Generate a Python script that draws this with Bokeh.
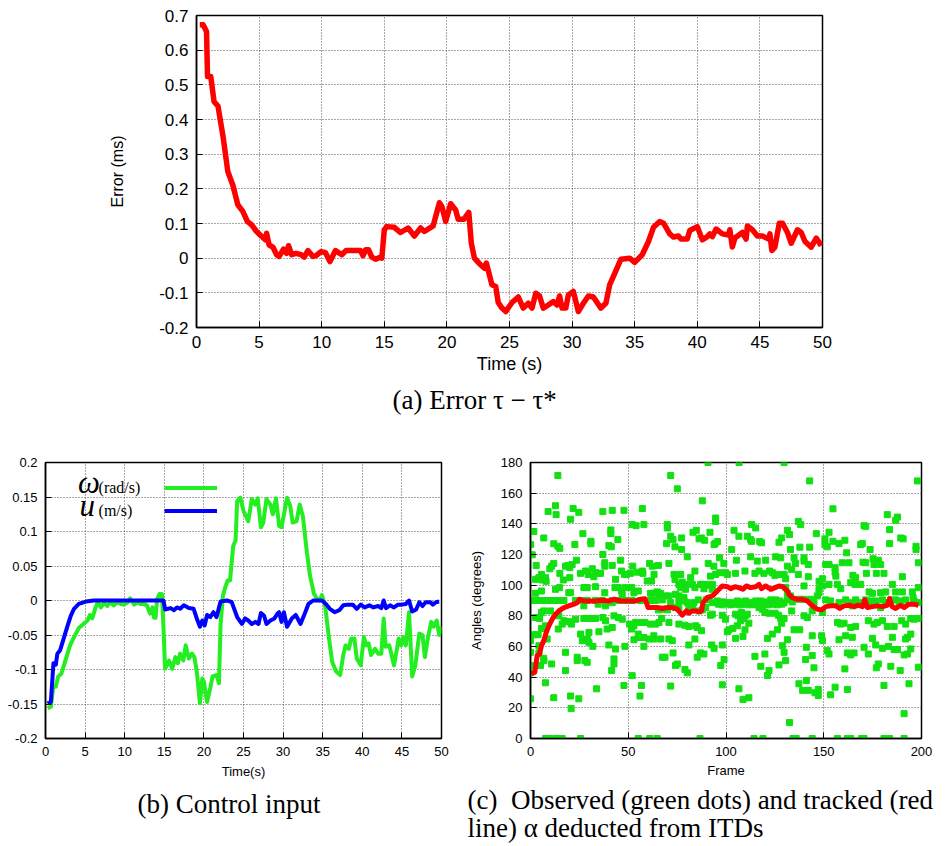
from bokeh.plotting import figure
from bokeh.models import Range1d, FixedTicker, Title, Label, Legend, LegendItem
from bokeh.layouts import column, row
from bokeh.embed import file_html
from bokeh.resources import INLINE

# ---------------- (a) Error tau - tau* ----------------
err_time = [0.26, 0.53, 0.8, 0.88, 1.14, 1.4, 1.72, 2.12, 2.5, 2.9,
            3.3, 3.7, 4.06, 4.4, 4.8, 5.17, 5.5, 5.6, 5.8, 6.1,
            6.4, 6.6, 6.95, 7.2, 7.35, 7.6, 7.95, 8.35, 8.6, 8.9,
            9.3, 9.55, 9.95, 10.3, 10.66, 11.1, 11.6, 11.95, 12.6, 13.1,
            13.3, 13.5, 13.75, 14.0, 14.3, 14.7, 14.8, 15.0, 15.2, 15.8,
            16.3, 16.9, 17.4, 17.9, 18.2, 18.9, 19.4, 19.6, 19.9, 20.3,
            20.7, 20.9, 21.35, 21.75, 21.95, 22.2, 22.6, 23.0, 23.15, 23.6,
            23.9, 24.1, 24.4, 24.7, 25.2, 25.7, 26.1, 26.5, 26.8, 27.1,
            27.4, 27.7, 28.1, 28.5, 28.8, 29.0, 29.2, 29.5, 29.7, 30.1,
            30.5, 30.9, 31.3, 31.7, 32.3, 32.7, 33.0, 33.5, 33.9, 34.6,
            35.0, 35.6, 36.1, 36.5, 37.0, 37.3, 37.8, 38.1, 38.5, 38.7,
            39.2, 39.4, 40.0, 40.4, 40.8, 41.0, 41.2, 41.5, 42.0, 42.5,
            42.6, 42.8, 43.0, 43.6, 43.9, 44.0, 44.4, 44.8, 45.2, 45.7,
            45.8, 45.95, 46.2, 46.55, 46.8, 47.2, 47.5, 48.0, 48.3, 48.6,
            49.1, 49.5, 49.9]
err_ms = [0.673, 0.673, 0.654, 0.524, 0.524, 0.452, 0.438, 0.351, 0.25, 0.211,
          0.154, 0.135, 0.106, 0.096, 0.077, 0.064, 0.053, 0.072, 0.038, 0.032,
          0.010, 0.005, 0.026, 0.014, 0.036, 0.010, 0.014, 0.010, 0.003, 0.022,
          0.005, 0.007, 0.019, 0.016, -0.010, 0.022, 0.010, 0.022, 0.022, 0.022,
          0.007, 0.024, 0.024, 0.003, -0.003, 0.003, 0.0, 0.082, 0.091, 0.089,
          0.074, 0.087, 0.064, 0.087, 0.077, 0.093, 0.160, 0.149, 0.106, 0.157,
          0.139, 0.112, 0.112, 0.132, 0.043, 0.0, -0.016, -0.029, -0.014, -0.077,
          -0.082, -0.128, -0.144, -0.154, -0.128, -0.112, -0.144, -0.130, -0.144, -0.101,
          -0.109, -0.144, -0.135, -0.125, -0.135, -0.109, -0.144, -0.144, -0.106, -0.096,
          -0.154, -0.130, -0.109, -0.112, -0.144, -0.130, -0.077, -0.036, -0.003, 0.0,
          -0.012, 0.010, 0.048, 0.089, 0.106, 0.101, 0.070, 0.061, 0.064, 0.055,
          0.055, 0.080, 0.091, 0.053, 0.062, 0.070, 0.062, 0.084, 0.070, 0.067,
          0.082, 0.032, 0.058, 0.074, 0.055, 0.093, 0.082, 0.064, 0.064, 0.055,
          0.070, 0.022, 0.032, 0.101, 0.101, 0.074, 0.043, 0.082, 0.074, 0.048,
          0.032, 0.058, 0.036]
a_xticks = [0, 5, 10, 15, 20, 25, 30, 35, 40, 45, 50]
a_yticks = [-0.2, -0.1, 0, 0.1, 0.2, 0.3, 0.4, 0.5, 0.6, 0.7]
a_ylabels = ["-0.2", "-0.1", "0", "0.1", "0.2", "0.3", "0.4", "0.5", "0.6", "0.7"]

# ---------------- (b) Control input ----------------
omega_time = [0.26, 0.68, 1.0, 1.3, 1.6, 2.0, 2.6, 3.1, 3.6, 4.2,
              4.8, 5.3, 5.6, 5.9, 6.3, 6.6, 7.0, 7.4, 7.8, 8.2,
              8.6, 9.1, 9.5, 9.9, 10.4, 10.7, 11.2, 11.6, 12.0, 12.4,
              12.8, 13.2, 13.5, 13.7, 13.9, 14.1, 14.4, 14.7, 14.9, 15.1,
              15.6, 16.0, 16.4, 16.7, 17.0, 17.4, 17.7, 18.1, 18.5, 18.8,
              19.1, 19.5, 19.8, 20.0, 20.4, 20.8, 21.1, 21.6, 21.9, 22.1,
              22.4, 22.7, 23.0, 23.3, 23.7, 24.0, 24.2, 24.6, 25.0, 25.6,
              26.05, 26.5, 26.8, 27.2, 27.5, 27.9, 28.4, 28.7, 29.1, 29.5,
              29.8, 30.5, 30.9, 31.2, 31.7, 32.1, 32.5, 33.0, 33.4, 33.9,
              34.3, 34.6, 34.9, 35.3, 35.7, 36.2, 36.7, 37.2, 37.6, 37.9,
              38.3, 38.6, 39.0, 39.3, 39.8, 40.2, 40.5, 40.8, 41.1, 41.6,
              42.0, 42.4, 42.7, 42.95, 43.4, 43.7, 44.0, 44.3, 44.6, 44.9,
              45.2, 45.5, 45.9, 46.3, 46.7, 47.2, 47.6, 47.9, 48.3, 48.7,
              49.0, 49.4, 49.7, 50.0]
omega_rad_s = [-0.156, -0.154, -0.123, -0.125, -0.110, -0.106, -0.084, -0.065, -0.053, -0.040,
               -0.034, -0.029, -0.021, -0.026, -0.011, -0.0025, -0.010, -0.003, -0.008, -0.0025,
               -0.007, -0.0025, -0.005, -0.006, -0.0025, 0.003, -0.006, -0.0025, -0.005, -0.005,
               -0.007, -0.019, -0.010, -0.025, -0.025, 0.0025, 0.0096, 0.0096, -0.041, -0.099,
               -0.087, -0.099, -0.082, -0.091, -0.077, -0.087, -0.065, -0.084, -0.077, -0.082,
               -0.103, -0.149, -0.113, -0.118, -0.147, -0.127, -0.110, -0.108, -0.120, -0.036,
               0.007, 0.019, 0.029, 0.029, 0.079, 0.087, 0.144, 0.149, 0.130, 0.115,
               0.147, 0.139, 0.148, 0.106, 0.113, 0.147, 0.139, 0.125, 0.148, 0.108,
               0.106, 0.149, 0.137, 0.113, 0.115, 0.139, 0.122, 0.070, 0.036, 0.0096,
               0.0025, 0.0, 0.008, -0.007, -0.046, -0.089, -0.103, -0.108, -0.079, -0.065,
               -0.070, -0.055, -0.055, -0.084, -0.094, -0.053, -0.065, -0.062, -0.079, -0.070,
               -0.077, -0.077, -0.026, -0.067, -0.065, -0.079, -0.094, -0.075, -0.055, -0.065,
               -0.053, -0.065, -0.017, -0.110, -0.094, -0.048, -0.050, -0.082, -0.053, -0.031,
               -0.038, -0.029, -0.050, -0.038]
u_time = [0.26, 0.68, 1.0, 1.3, 1.5, 1.85, 2.35, 2.8, 3.2, 3.6,
          4.2, 5.1, 6.1, 14.9, 15.1, 15.8, 16.2, 16.6, 17.0, 17.45,
          18.1, 18.7, 19.1, 19.5, 19.8, 20.1, 20.4, 20.8, 21.2, 21.6,
          22.1, 22.9, 23.5, 24.2, 24.8, 25.2, 25.6, 26.05, 26.5, 26.9,
          27.2, 27.6, 27.9, 28.4, 28.9, 29.3, 29.5, 29.8, 30.1, 30.5,
          31.1, 31.6, 32.2, 32.8, 33.2, 33.8, 34.9, 35.4, 35.9, 36.5,
          37.1, 37.6, 38.2, 38.8, 39.3, 39.8, 40.3, 40.9, 41.4, 42.0,
          42.4, 42.7, 43.0, 43.5, 44.0, 44.5, 45.0, 45.5, 45.9, 46.3,
          46.8, 47.2, 47.6, 48.0, 48.6, 48.9, 49.3, 49.7]
u_m_s = [-0.149, -0.147, -0.091, -0.093, -0.077, -0.072, -0.053, -0.036, -0.022, -0.012,
         -0.005, -0.0015, 0.0, 0.0, -0.013, -0.011, -0.014, -0.010, -0.012, -0.007,
         -0.011, -0.012, -0.026, -0.038, -0.029, -0.036, -0.021, -0.024, -0.017, -0.024,
         -0.0015, 0.0, -0.002, -0.024, -0.034, -0.026, -0.029, -0.034, -0.031, -0.034,
         -0.018, -0.022, -0.034, -0.029, -0.026, -0.019, -0.017, -0.031, -0.017, -0.038,
         -0.026, -0.021, -0.034, -0.017, -0.005, 0.0, 0.0, -0.005, -0.012, -0.017,
         -0.014, -0.007, -0.006, -0.006, -0.012, -0.006, -0.010, -0.007, -0.010, -0.008,
         -0.011, 0.0, -0.011, -0.007, -0.010, -0.006, -0.006, -0.005, 0.0, -0.016,
         -0.013, -0.0025, -0.008, -0.0025, -0.0025, -0.006, -0.0025, -0.0015]
b_xticks = [0, 5, 10, 15, 20, 25, 30, 35, 40, 45, 50]
b_yticks = [-0.2, -0.15, -0.1, -0.05, 0, 0.05, 0.1, 0.15, 0.2]
b_ylabels = ["-0.2", "-0.15", "-0.1", "-0.05", "0", "0.05", "0.1", "0.15", "0.2"]

# ---------------- (c) Observed / tracked angle ----------------
track_frame = [0.5, 2.2, 3.4, 4.6, 5.6, 6.8, 8.0, 9.4, 11.1, 12.8,
               14.5, 17.1, 19.6, 22.2, 23.9, 25.1, 27.3, 29.9, 33.3, 36.7,
               40.1, 42.7, 46.1, 50.3, 53.8, 56.3, 58.5, 60.2, 62.3, 64.8,
               67.4, 70.0, 72.5, 75.1, 77.6, 79.7, 81.0, 82.8, 84.5, 86.2,
               87.5, 88.2, 90.4, 93.0, 94.7, 96.4, 98.1, 100.7, 102.4, 104.6,
               106.6, 108.7, 110.4, 112.6, 115.2, 116.9, 118.2, 120.3, 122.9, 125.1,
               127.1, 129.2, 131.4, 132.2, 133.9, 136.5, 139.1, 141.6, 144.2, 146.8,
               149.0, 151.0, 153.6, 156.2, 158.2, 160.4, 163.0, 165.5, 167.7, 169.8,
               171.0, 172.3, 174.9, 177.4, 180.0, 182.5, 183.7, 185.0, 186.8, 189.3,
               191.0, 193.6, 196.1, 198.4]
track_deg = [42.2, 43.2, 54.0, 55.0, 60.5, 63.8, 69.0, 73.5, 77.8, 81.0,
             83.2, 85.4, 86.5, 87.6, 88.6, 90.8, 89.7, 89.7, 89.7, 90.2,
             89.7, 90.8, 89.7, 89.7, 89.7, 90.8, 91.2, 85.4, 85.4, 85.4,
             84.8, 85.4, 85.4, 84.3, 80.4, 83.2, 81.7, 83.2, 83.2, 82.6,
             83.2, 88.6, 91.9, 93.0, 95.1, 97.3, 99.5, 99.0, 97.7, 99.0,
             98.4, 97.3, 99.5, 98.4, 99.0, 100.5, 97.7, 99.5, 97.3, 98.4,
             99.5, 99.0, 96.2, 94.0, 91.9, 90.8, 90.8, 89.7, 86.5, 84.3,
             83.9, 86.0, 86.5, 86.5, 84.8, 86.5, 86.9, 86.0, 86.9, 86.0,
             90.4, 85.4, 86.0, 86.5, 86.0, 86.9, 91.2, 86.0, 84.8, 86.9,
             85.4, 87.6, 87.6, 86.9]

obs_frame = [
    14, 12.8, 13.1, 9, 21.8, 24.7, 20.5, 37, 41.8, 47.8, 57.2, 52, 54, 58, 1.7, 6.8, 11.9, 14, 15, 22.7,
    26.8, 30.9, 30.9, 40.1, 41.3, 41.1, 41.1, 44.7, 0, 0.9, 37, 2.9, 10.8, 11.9, 9.9, 17.9, 19.3, 21.3, 20.1, 23.5,
    15, 5.6, 4.3, 2.6, 6, 7.7, 8, 16.8, 20.1, 25.6, 28.2, 29.5, 31.6, 33.3, 34.5, 35.8, 32.4, 38, 38, 41.8,
    43.5, 46.1, 48.1, 49.1, 46.6, 52.3, 51.1, 54.6, 57.2, 57.5, 60.9, 62.3, 63.2, 61.9, 59.7, 65.4, 12.8, 14.8, 2.6, 5.6,
    19.6, 20.5, 27.3, 29, 33.3, 38, 43.2, 44.9, 46.6, 46.9, 48.6, 51.7, 52.9, 55.1, 61.4, 63.1, 64.8, 65.7,
    0, 1.7, 4.3, 6.8, 9, 11.1, 13.7, 15.4, 17.1, 23, 26.5, 29, 33.3, 36.7, 41.8, 45.2, 48.6, 52, 56.3, 61.4, 64,
    34.6, 38.4, 41.8, 27.3, 6.8, 10.2, 5.6,
    2.6, 4.6, 14.5, 17.1, 18.8, 20.5, 23, 27.3, 29, 31.6, 33.3, 37, 38.4, 42.7, 44.9, 46.9, 50.7, 52.9, 53.8, 56.8,
    58.5, 61.4, 64, 65.7,
    5.6, 7.7, 14.2, 16.2, 21, 25.6, 29.9, 35, 39.2, 41.8, 51.7, 55.1, 58, 60.6, 63.1, 63.1, 0, 1.7, 3.9, 8.5,
    26.5, 29, 29.9, 31.9, 40.1, 43.5, 48.3, 55.5, 58, 52.9, 4.3, 4.3, 0, 6.8, 6.8, 10.8, 17.9, 23.9, 23.9, 27.8,
    29, 42.7, 42.7, 0, 5.1, 17.9, 41.5, 7.7, 0, 52, 47.8, 56.8, 33.8, 0, 11.9, 20.5, 24.7, 56, 20.8,
    7.7, 9.7, 13.1, 16.2, 25.6, 55.1, 61, 64.8,
    90.8, 106.7, 129.7, 71.7, 75.1, 87.9, 94.7, 94.7, 70, 70, 83.1, 84.8, 71.7, 72.9, 77.3, 69.6, 73.9, 77.3, 86.2, 87.4,
    89.1, 91.8, 94.4, 95.6, 93.9, 104.1, 106.6, 110.9, 112.6, 113.1, 113.1, 115.2, 117.2, 118.2, 127.1, 128.5, 102.9, 80.2, 70.8, 90.9,
    98.9, 93.8, 96.7, 105.3, 112.6, 116, 120.3, 125.4, 128,
    73.4, 76.8, 73.9, 77.6, 79.3, 81.9, 84.1, 87.9, 89.6, 92.1, 93, 94.7, 96.8, 99.8, 100.7, 104.9, 109.7, 114.8, 116.9, 119.4,
    122.3, 123.7, 125, 126.8, 129.7, 130.5,
    75.9, 76.8, 79.3, 82.8, 84.1, 87, 88.7, 91.3, 93, 66.6, 69.1, 70.8, 74.2, 75.9, 78.5,
    67.4, 71.7, 75.9, 78.5, 80.2, 83.6, 85.8, 89.9, 91.3, 93, 95.6, 97.3, 99, 100.7, 103.3, 105.8, 108.4, 110.1, 112.6, 115.2,
    117.8, 120.3, 122.9, 125.4, 127.5, 129.7, 131.4,
    96.2, 98.2, 101.8, 102.5, 104.2, 107.1, 109.3, 111.4, 113.9, 114.1, 116.3, 118.9, 119.2, 121.5, 124.1, 126.2, 128.6,
    65.4, 67.4, 70, 74.2, 75.9, 81, 82.8, 86.2, 87.9, 89.6,
    93, 98.1, 99.8, 104.9, 106.2, 107.9, 110, 110.9, 116.9, 118.6, 119.9, 122, 125.1, 126.8, 128,
    67.1, 70.8, 75.9, 79, 81, 84.5, 85.3, 87.5, 92.1,
    66.6, 70.8, 72.5, 84.1, 81, 92.7, 93.9, 98.1, 100.7, 101.5, 103.5, 105.8, 107.5, 109.7, 109.2, 111.7, 104.9, 108.7, 121.2, 123.7,
    126.3, 128.5, 129.7, 128.8,
    72.9, 67.4, 68.8, 87, 88.7, 74.2, 75.1, 79, 80.2, 99, 97.3, 85.3, 114.8, 119.9, 117.8, 122, 121.2, 127.1, 129.7,
    71.7, 98.1, 106.6, 108.7, 111.7, 86.7, 114.3, 118.9,
    197.9, 142.8, 154.7, 182.5, 187.7, 186.8, 137, 138.2, 170.6, 171.5, 131.4, 132.5, 152.7, 146.2, 183.7,
    150.6, 150.6, 151.8, 154.7, 157.8, 160.8, 168.9, 169.7,
    189.4, 190.6, 183.7, 197.2, 197.2, 133, 137.8, 142.8, 161.7, 173.7,
    134.8, 139.9, 139.9, 135.6, 142.1, 151, 152.7, 155.8, 159.5, 162.9, 170.1, 171.5, 175.2, 177.9, 175.7, 179.1, 198.4,
    131.4, 133.6, 137, 142.1, 155.8, 156.2, 164.9, 166.3, 171.8, 176.9, 180.8, 190.2, 147.6, 149.3,
    130.5, 139.9, 147.6, 149.3, 152.7, 157, 158.7, 163.8, 166, 168.9, 173.2, 174.9, 179.1, 181.7, 185.1, 186.8, 190.2, 195.3, 198.4, 195.7,
    151, 153.5, 157.8, 161.2, 163.8, 166.3, 168.4, 171.5, 174, 176.6, 180, 181.7, 184.3, 186.8, 189.4, 191.9, 196.2, 198.4, 164.6, 173.2,
    179.1, 188.5,
    131.4, 133, 133.9, 133.6, 137.3, 139.9, 143.3, 145, 146.7, 147.6, 144.1, 149.3, 139.9, 141.6,
    157, 160.4, 158.7, 163.8, 166.3, 172.8, 175.7, 177.4, 180, 182.5, 186, 189.9, 191.9, 194.5, 196.2, 198.4,
    134.8, 137.7, 144.1, 148.9, 149.3, 157.8, 161.2, 164.6, 174.9, 185.1, 192.8, 194.5, 191.9, 131.4,
    141.1, 144.1, 151.8, 152.7, 162.1, 163.8, 165.5, 170.6, 172.8, 176.6, 180, 183.1, 186, 187.7, 191.1, 192.8, 194.5, 198.4, 130.5, 140.7,
    145, 160.8, 176.9, 177.9, 184.3, 189.1,
    137.3, 141.1, 139.2, 142.1, 145.5, 147.2, 147.2, 153.5, 155.8, 162.1, 180.8, 193.6, 191.1, 132.5,
    134.3, 135.9, 144.1, 157, 162.1, 163.8, 169.4, 170.6, 180.8, 183.7, 191.1]
obs_deg = [
    171.5, 151.8, 146, 148, 150, 147.5, 143, 148, 148.8, 148.8, 150, 139.5, 138.8, 139.5, 135, 130.8, 127, 125.4, 124, 126.5,
    133.6, 128.6, 127, 125.8, 125, 136, 133.6, 129.7, 126.5, 119.8, 120, 112.9, 112.4, 114.2, 110.7, 112.4, 112.9, 113.5, 111.4, 116.3,
    107.7, 107, 104.9, 103.8, 103.4, 104.9, 102.5, 103.4, 104.9, 107.7, 109.2, 107, 110.7, 108.1, 107.7, 107.7, 105.5, 114.6, 112.4, 112.9,
    103.8, 116.3, 107, 107, 109.2, 112.4, 107.7, 108.5, 109.2, 107.7, 114.2, 112.4, 107, 102.7, 102.7, 112.9, 97.3, 98.4, 94.7, 96.2,
    95.1, 95.1, 98.4, 98.4, 99, 95.1, 98.4, 98.4, 96.2, 94, 98.4, 98.4, 95.1, 96.2, 94.7, 94.7, 95.6, 94,
    90, 90, 90, 90, 90, 90, 90, 90, 90, 90, 90, 90, 90, 90, 90, 90, 90, 90, 90, 90, 90,
    87.6, 86.5, 88.6, 86.5, 83.2, 83.2, 82.2,
    78.9, 78.3, 80, 76.8, 76.1, 76.1, 77.8, 78.3, 78.3, 78.3, 78.3, 78.9, 76.8, 80, 78.9, 77.8, 74.6, 73.5, 75.7, 75.7,
    75.7, 74.6, 74.6, 75.7,
    71.8, 73.5, 71.4, 74.6, 74.6, 68.1, 69.2, 69.6, 71.4, 72.4, 71.4, 68.1, 65.9, 64.9, 67, 64.9, 63.8, 67.7, 67.7, 64.9,
    63.8, 64.9, 62.7, 60.1, 61, 58.4, 60.1, 65.9, 60.1, 64.4, 60.5, 55.8, 56.2, 52.3, 50.8, 48.6, 56.2, 53, 50.8, 50.8,
    49.7, 51.9, 48.6, 47.6, 47.6, 44.3, 44.3, 36.3, 42.8, 41, 34.6, 34.6, 32.4, 25.9, 26.6, 27.7, 25.9, 27.7, 19.5,
    0, 0, 0, 0, 0, 0, 0, 0,
    180, 180, 180, 171.5, 162.8, 155, 143.8, 141.6, 139.5, 137.3, 134.5, 135.8, 131.9, 129.7, 130.8, 127.1, 125, 123.2, 130.2, 130.8,
    129.3, 134.5, 127.1, 128.4, 126.5, 135.8, 131.9, 131.9, 129.7, 128.6, 139.5, 137.3, 128.4, 127.6, 128, 130.8, 123.2, 118.5, 114.2, 114.2,
    114.2, 112.4, 117.8, 116.3, 118.5, 115.7, 116.3, 118.5, 117.8,
    107, 107, 103.8, 102, 100.5, 104.9, 109.2, 100.5, 100.5, 105.9, 100.5, 107, 108.1, 108.1, 107, 107.7, 109.2, 107.7, 109.2, 107.7,
    109.2, 108.1, 106.4, 107, 107, 104.2,
    100.5, 98.4, 97.3, 100.5, 98.4, 100.5, 97.7, 99.9, 97.3, 94.7, 93, 93, 94, 93, 91.9,
    90.4, 88.6, 89.1, 89.7, 88.6, 88.6, 90.4, 90.4, 91.2, 88.6, 89.7, 88.6, 89.1, 88.6, 88.6, 89.7, 89.1, 89.7, 88.6, 89.7,
    89.7, 89.1, 90.4, 90.4, 89.7, 88.6, 90.4,
    87.6, 87.2, 87.6, 87.2, 87.6, 87.2, 87.6, 87.2, 87.6, 87.2, 87.6, 87.2, 87.6, 87.2, 87.6, 87.2, 87.6,
    83.9, 84.3, 83.9, 85.4, 84.8, 86, 84.8, 83.2, 83.9, 85.4,
    81.1, 80.4, 77.8, 81.1, 80, 82.2, 80.4, 81.1, 85.4, 84.3, 82.2, 81.7, 81.7, 80.4, 78.3,
    78.3, 75.7, 74.6, 73.9, 73.1, 73.5, 72.4, 70.3, 80.4,
    64.9, 64.9, 63.8, 64.9, 61, 61, 58.8, 61, 69.6, 70.9, 71.8, 73.5, 76.8, 70.9, 78.3, 75.2, 65.3, 66.6, 65.3, 68.1,
    70.9, 75.2, 78.3, 60.5,
    55.8, 53, 53, 55.8, 55.1, 47.6, 48.6, 45, 42.8, 51.5, 47.6, 53, 53.6, 55.1, 47.1, 44.3, 41.1, 48, 56.2,
    34.2, 35, 32.4, 25.5, 26.6, 0, 0, 0,
    168, 168, 149.8, 146, 144.4, 142.3, 141.6, 139.5, 138.8, 138.4, 135.8, 133, 134.5, 133.6, 136.2,
    130.2, 126.5, 125, 128.6, 127.1, 129.3, 126.5, 127.1,
    130.8, 130.2, 127.1, 123.2, 125.4, 123.2, 124.8, 124.8, 121.1, 123.2,
    117.8, 117.8, 115.7, 114.2, 113.5, 113.5, 113.5, 111.4, 114.6, 114.6, 115, 114.6, 117.2, 116.3, 113.5, 113.5, 114.6,
    112.4, 110.3, 107, 105.5, 108.5, 105.9, 106.4, 104.9, 107.7, 107.7, 107.7, 105.5, 102.5, 104.2,
    98.4, 99.5, 97.7, 99.5, 100.5, 100.5, 97.7, 101.6, 100.5, 100.5, 95.6, 94.7, 95.1, 95.6, 100.5, 95.6, 95.6, 95.6, 98.4, 91.9,
    90.4, 89.7, 88.6, 90.4, 88.6, 90.4, 88.6, 90.4, 89.7, 89.7, 90.4, 88.6, 90.4, 90.4, 89.7, 90.4, 89.7, 88.6, 86.5, 88.6,
    85.4, 88.2,
    94.7, 93, 89.1, 83.2, 90.8, 90.8, 90.8, 88.6, 93, 95.1, 83.2, 82.2, 80, 78.9,
    75.7, 75.2, 74.6, 72.4, 73.1, 76.8, 74.6, 75.7, 76.8, 73.1, 73.1, 76.8, 74.6, 78.3, 77.8, 78.3,
    70.9, 70.9, 67, 67, 63.8, 64.4, 67, 66, 65.3, 66, 66, 68.1, 64.9, 64.4,
    59.5, 54.1, 57.3, 55.1, 55.8, 54.5, 55.8, 59.5, 55.1, 61, 58.8, 60.1, 58, 58, 54.5, 55.1, 58.4, 46.5, 50.8, 51.5,
    46.1, 45.4, 46.1, 48.6, 47.1, 44.3,
    35.7, 37.8, 31.4, 31.4, 29.8, 28.1, 32, 28.5, 33.5, 32, 34.6, 35.7, 16.2, 10.4,
    0, 0, 0, 0, 0, 0, 0, 0, 0, 0, 0]
c_xticks = [0, 50, 100, 150, 200]
c_yticks = [0, 20, 40, 60, 80, 100, 120, 140, 160, 180]

SANS = "Liberation Sans"
SERIF = "Liberation Serif"
GRID = "#505050"


def style(p, xticks, yticks, ylabels, tick_px):
    p.xaxis.ticker = FixedTicker(ticks=xticks)
    p.yaxis.ticker = FixedTicker(ticks=yticks)
    if ylabels is not None:
        p.yaxis.major_label_overrides = {t: s for t, s in zip(yticks, ylabels)}
    for ax in (p.xaxis, p.yaxis):
        ax.major_label_text_font = SANS
        ax.major_label_text_font_size = tick_px
        ax.major_label_text_color = "black"
        ax.axis_label_text_font = SANS
        ax.axis_label_text_font_style = "normal"
        ax.axis_label_text_color = "black"
        ax.axis_line_color = "black"
        ax.axis_line_width = 1.5
        ax.major_tick_in = 6
        ax.major_tick_out = 0
        ax.major_tick_line_color = "black"
        ax.minor_tick_in = 0
        ax.minor_tick_out = 0
        ax.major_label_standoff = 8
    for g in (p.xgrid, p.ygrid):
        g.grid_line_color = GRID
        g.grid_line_dash = "1 2"
        g.grid_line_width = 1
    p.outline_line_color = "black"
    p.outline_line_width = 1.5
    p.outline_line_alpha = 1
    p.background_fill_color = "white"
    p.border_fill_color = "white"
    p.title.visible = False


def caption(text, offset, standoff, size="27px"):
    return Title(text=text, align="left", offset=offset, standoff=standoff,
                 text_font=SERIF, text_font_size=size, text_font_style="normal",
                 text_color="black", text_line_height=0.93)


# ---------- figure (a) ----------
pa = figure(width=938, height=428, output_backend="svg", toolbar_location=None,
            x_range=Range1d(0, 50), y_range=Range1d(-0.2, 0.7),
            min_border_left=196, min_border_right=116, min_border_top=15, min_border_bottom=101)
style(pa, a_xticks, a_yticks, a_ylabels, "17px")
pa.xaxis.axis_label = "Time (s)"
pa.yaxis.axis_label = "Error (ms)"
pa.xaxis.axis_label_text_font_size = "18px"
pa.yaxis.axis_label_text_font_size = "16px"
pa.xaxis.axis_label_standoff = 3
pa.yaxis.axis_label_standoff = 30
pa.line(err_time, err_ms, line_color="#ff0000", line_width=5.5, line_join="round")
pa.add_layout(caption("(a) Error \u03c4 \u2212 \u03c4*", 196, 12), "below")

# ---------- figure (b) ----------
pb = figure(width=460, height=418, output_backend="svg", toolbar_location=None,
            x_range=Range1d(0, 50), y_range=Range1d(-0.2, 0.2),
            min_border_left=45, min_border_right=19, min_border_top=34, min_border_bottom=108)
style(pb, b_xticks, b_yticks, b_ylabels, "13px")
pb.xaxis.axis_label = "Time(s)"
pb.xaxis.axis_label_text_font_size = "13px"
pb.xaxis.axis_label_standoff = 5
gl = pb.line(omega_time, omega_rad_s, line_color="#22ee22", line_width=4, line_join="round")
bl = pb.line(u_time, u_m_s, line_color="#0000ff", line_width=4, line_join="round")
leg = Legend(items=[LegendItem(label=" ", renderers=[gl]), LegendItem(label=" ", renderers=[bl])],
             location=(119, 216), glyph_width=53, glyph_height=23, label_width=0,
             label_height=23, label_standoff=0, padding=0, spacing=0, margin=0,
             border_line_alpha=0, background_fill_alpha=0, label_text_font_size="1px")
pb.add_layout(leg)
pb.add_layout(Label(x=4.1, y=0.171, text="\u03c9", text_font=SERIF, text_font_style="italic",
                    text_font_size="31px", text_baseline="middle", text_color="black"))
pb.add_layout(Label(x=6.7, y=0.164, text="(rad/s)", text_font=SERIF,
                    text_font_size="16px", text_baseline="middle", text_color="black"))
pb.add_layout(Label(x=4.3, y=0.138, text="u", text_font=SERIF, text_font_style="italic",
                    text_font_size="31px", text_baseline="middle", text_color="black"))
pb.add_layout(Label(x=6.7, y=0.131, text="(m/s)", text_font=SERIF,
                    text_font_size="16px", text_baseline="middle", text_color="black"))
pb.add_layout(caption("(b) Control input", 92, 10), "below")

# ---------- figure (c) ----------
pc = figure(width=478, height=418, output_backend="svg", toolbar_location=None,
            x_range=Range1d(0, 200), y_range=Range1d(0, 180),
            min_border_left=70, min_border_right=17, min_border_top=33, min_border_bottom=108)
style(pc, c_xticks, c_yticks, None, "13px")
pc.xaxis.axis_label = "Frame"
pc.yaxis.axis_label = "Angles (degrees)"
pc.xaxis.axis_label_text_font_size = "13px"
pc.yaxis.axis_label_text_font_size = "13px"
pc.xaxis.axis_label_standoff = 4
pc.yaxis.axis_label_standoff = 14
pc.scatter(obs_frame, obs_deg, marker="square", size=6, fill_color="#11e011",
           line_color="#11e011")
pc.line(track_frame, track_deg, line_color="#ff0000", line_width=5, line_join="round")
pc.add_layout(caption("(c)\u2002Observed (green dots) and tracked (red\n"
                      "line) \u03b1 deducted from ITDs", -63, 5), "below")

layout = column(pa, row(pb, pc))
open("out.html", "w").write(file_html(layout, INLINE))
